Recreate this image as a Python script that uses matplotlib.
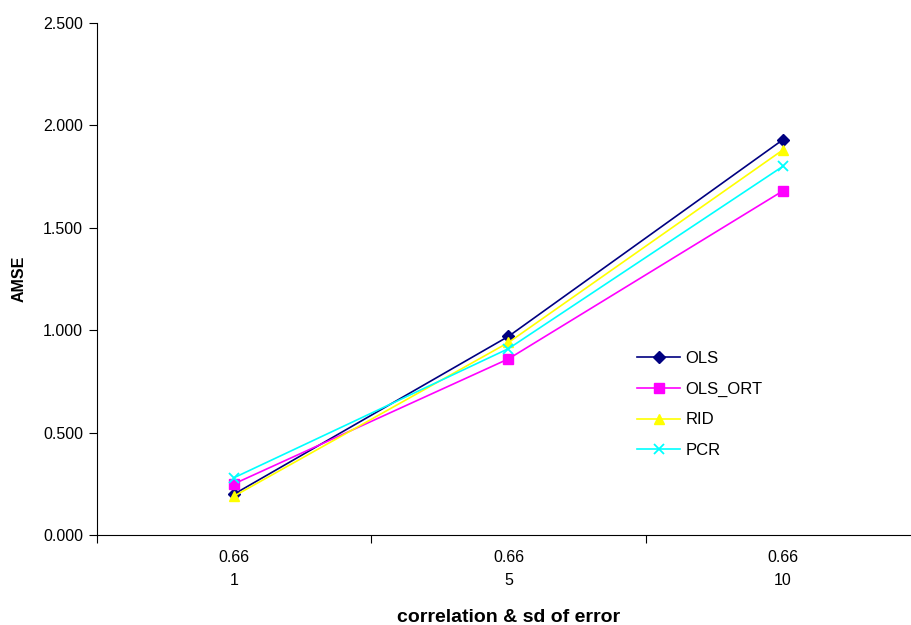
import matplotlib
matplotlib.use("Agg")
import matplotlib.pyplot as plt
from matplotlib.ticker import FixedLocator, NullFormatter

plt.rcParams['font.family'] = ['Liberation Sans', 'DejaVu Sans']

categories = ["0.66\n1", "0.66\n5", "0.66\n10"]
ols = [0.20, 0.97, 1.93]
ols_ort = [0.25, 0.86, 1.68]
rid = [0.19, 0.94, 1.88]
pcr = [0.28, 0.91, 1.80]

y_ticks = [0.0, 0.5, 1.0, 1.5, 2.0, 2.5]

fig = plt.figure(figsize=(9.12, 6.25), dpi=100)
ax = fig.add_axes([97 / 912, 90 / 625, (920 - 97) / 912, (535 - 23) / 625])

x = list(range(len(categories)))
ax.plot(x, ols, color="#000080", marker="D", markersize=6, lw=1.2, label="OLS")
ax.plot(x, ols_ort, color="#FF00FF", marker="s", markersize=6.5, lw=1.2, label="OLS_ORT")
ax.plot(x, rid, color="#FFFF00", marker="^", markersize=7.5, lw=1.2, label="RID")
ax.plot(x, pcr, color="#00FFFF", marker="x", markersize=7, mew=1.3, lw=1.2, label="PCR")

ax.set_xlim(-0.5, len(categories) - 0.5)
ax.set_ylim(0, 2.5)
ax.set_yticks(y_ticks)
ax.set_yticklabels([f"{v:.3f}" for v in y_ticks], fontsize=11.5)

ax.set_xticks(x)
ax.set_xticklabels(categories, fontsize=11.5, linespacing=1.65)
ax.xaxis.set_minor_locator(FixedLocator([i - 0.5 for i in range(len(categories) + 1)]))
ax.xaxis.set_minor_formatter(NullFormatter())
ax.tick_params(axis="x", which="major", length=0, pad=11)
ax.tick_params(axis="x", which="minor", length=6, direction="out", width=0.8)
ax.tick_params(axis="y", length=6, direction="out", width=0.8, pad=4)

for side in ("top", "right"):
    ax.spines[side].set_visible(False)
for side in ("left", "bottom"):
    ax.spines[side].set_linewidth(0.8)

ax.set_ylabel("AMSE", fontsize=11.5, fontweight="bold", labelpad=12)
ax.set_xlabel("correlation & sd of error", fontsize=14, fontweight="bold", labelpad=15)

ax.legend(loc="upper left", bbox_to_anchor=(0.656, 0.360), frameon=False,
          borderpad=0, borderaxespad=0,
          fontsize=12, handlelength=2.6, labelspacing=0.95, handletextpad=0.3)

fig.savefig("out.png", dpi=100)
